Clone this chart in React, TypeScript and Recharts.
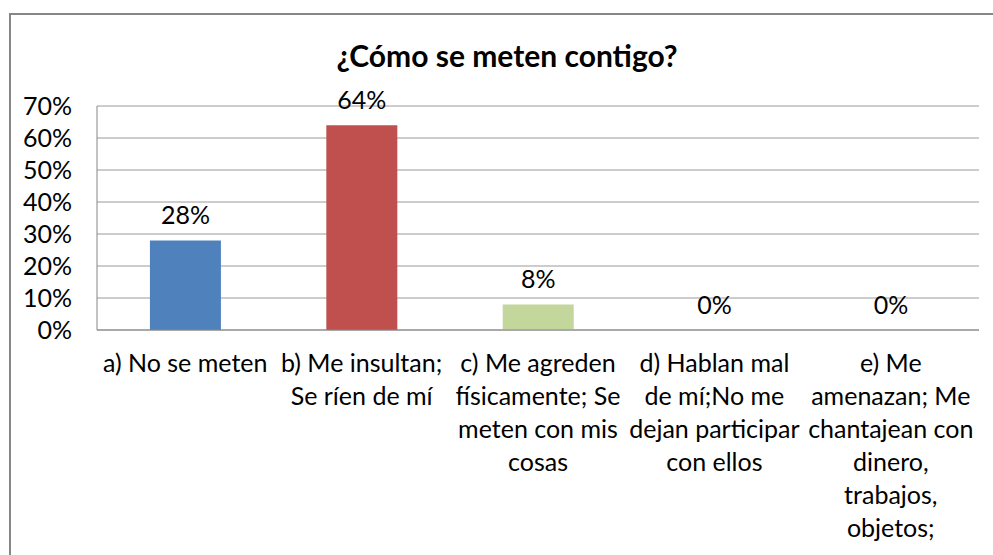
import { BarChart, Bar, XAxis, YAxis, CartesianGrid, Cell, LabelList } from "recharts";

// categories (line breaks follow the original wrapping)
const categories = [
  "a) No se meten",
  "b) Me insultan;\nSe ríen de mí",
  "c) Me agreden\nfísicamente; Se\nmeten con mis\ncosas",
  "d) Hablan mal\nde mí;No me\ndejan participar\ncon ellos",
  "e) Me\namenazan; Me\nchantajean con\ndinero,\ntrabajos,\nobjetos;",
];
const values = [0.28, 0.64, 0.08, 0, 0];
const barColors = ["#4F81BD", "#C0504D", "#C3D69B", "#8064A2", "#4BACC6"];
const yTicks = [0, 0.1, 0.2, 0.3, 0.4, 0.5, 0.6, 0.7];

const data = categories.map((name, i) => ({ name, value: values[i] }));

const FONT = "Lato, 'Noto Sans', sans-serif";
const pct = (v: number) => `${Math.round(v * 100)}%`;

const CategoryTick = ({ x, y, payload }: any) => {
  const lines = String(payload.value).split("\n");
  return (
    <text x={x} y={y + 33} textAnchor="middle" fontFamily={FONT} fontSize={25} fill="#000">
      {lines.map((line, i) => (
        <tspan key={i} x={x} dy={i === 0 ? "0.35em" : 33}>
          {line}
        </tspan>
      ))}
    </text>
  );
};

const TopLabel = ({ x, y, width, value }: any) => (
  <text
    x={x + width / 2}
    y={y - 26}
    textAnchor="middle"
    dominantBaseline="central"
    fontFamily={FONT}
    fontSize={25}
    fill="#000"
  >
    {pct(Number(value))}
  </text>
);

export default function App() {
  return (
    <div style={{ position: "absolute", left: 0, top: 0, width: 993, height: 555, overflow: "hidden", background: "#fff" }}>
      <div
        style={{
          position: "absolute",
          left: 9,
          top: 13,
          width: 1010,
          height: 600,
          border: "2px solid #868686",
        }}
      />
      <div
        style={{
          position: "absolute",
          left: 0,
          top: 35,
          width: 1014,
          textAlign: "center",
          fontFamily: FONT,
          fontWeight: 700,
          fontSize: 30,
          lineHeight: "40px",
          color: "#000",
        }}
      >
        ¿Cómo se meten contigo?
      </div>
      <div style={{ position: "absolute", left: 0, top: 0 }}>
        <BarChart
          width={993}
          height={555}
          data={data}
          margin={{ top: 106, right: 14, bottom: 0, left: 0 }}
          barCategoryGap="30%"
        >
          <CartesianGrid vertical={false} stroke="#9a9a9a" />
          <XAxis
            dataKey="name"
            interval={0}
            height={225}
            tickLine={false}
            tickSize={0}
            tickMargin={0}
            axisLine={{ stroke: "#868686" }}
            tick={<CategoryTick />}
          />
          <YAxis
            width={97}
            domain={[0, 0.7]}
            ticks={yTicks}
            interval={0}
            tickFormatter={pct}
            tickLine={false}
            tickSize={0}
            tickMargin={25}
            axisLine={{ stroke: "#868686" }}
            tick={{ fontFamily: FONT, fontSize: 25, fill: "#000" }}
          />
          <Bar dataKey="value" isAnimationActive={false} minPointSize={0.01}>
            {data.map((_, i) => (
              <Cell key={i} fill={barColors[i]} />
            ))}
            <LabelList dataKey="value" content={<TopLabel />} />
          </Bar>
        </BarChart>
      </div>
    </div>
  );
}
